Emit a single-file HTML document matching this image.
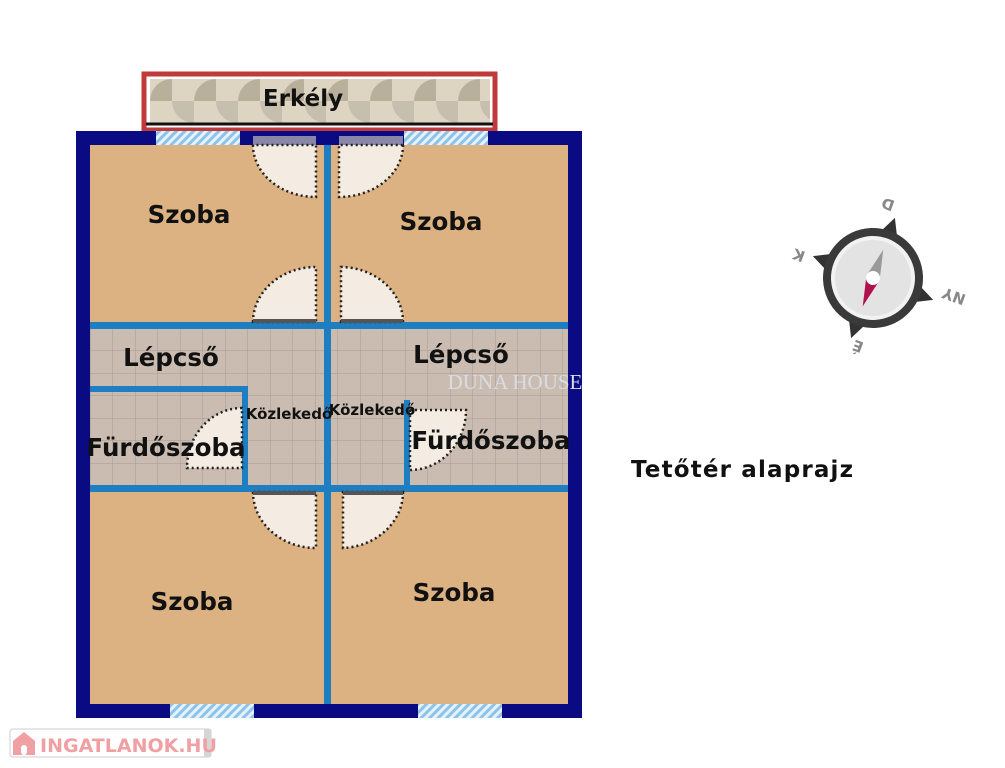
<!DOCTYPE html>
<html><head><meta charset="utf-8"><style>
html,body{margin:0;padding:0;background:#fff;width:1005px;height:768px;overflow:hidden}
svg{display:block}
text{font-family:"DejaVu Sans","Liberation Sans",sans-serif;font-weight:bold;fill:#111}
</style></head><body>
<svg width="1005" height="768" viewBox="0 0 1005 768" xmlns="http://www.w3.org/2000/svg">
<defs>
<pattern id="hatch" width="6" height="6" patternUnits="userSpaceOnUse" patternTransform="rotate(45)">
<rect width="6" height="6" fill="#e6f2fb"/><rect width="3" height="6" fill="#8cc3e8"/></pattern>
<pattern id="tile" x="90" y="328" width="22.5" height="22.5" patternUnits="userSpaceOnUse">
<rect width="22.5" height="22.5" fill="#cbbcb2"/><path d="M0 0H22.5M0 0V22.5" stroke="#a89a92" stroke-width="1"/></pattern>
<pattern id="erk" x="150" y="79" width="44" height="44" patternUnits="userSpaceOnUse">
<rect width="44" height="44" fill="#ddd5c2"/><path d="M0 22 A22 22 0 0 1 22 0 L22 22Z" fill="#b9b09c"/><path d="M44 44 A22 22 0 0 1 22 22 L44 22Z" fill="#c7bfad"/></pattern>
</defs>
<rect x="144" y="74" width="351" height="56" fill="#fff" stroke="#c0393b" stroke-width="5"/>
<rect x="150" y="79" width="340" height="44" fill="url(#erk)"/>
<line x1="146" y1="124" x2="493" y2="124" stroke="#111" stroke-width="3"/>
<text x="303" y="106" font-size="23" text-anchor="middle">Erkély</text>
<rect x="76" y="131" width="506" height="587" fill="#0a0a82"/>
<rect x="90" y="145" width="478" height="559" fill="#ddb282"/>
<rect x="90" y="328" width="478" height="159" fill="url(#tile)"/>
<rect x="156" y="131" width="84" height="14" fill="url(#hatch)"/>
<rect x="404" y="131" width="84" height="14" fill="url(#hatch)"/>
<rect x="170" y="704" width="84" height="14" fill="url(#hatch)"/>
<rect x="418" y="704" width="84" height="14" fill="url(#hatch)"/>
<rect x="253" y="136" width="63" height="9" fill="#8a86a8"/>
<rect x="339" y="136" width="64" height="9" fill="#8a86a8"/>
<g fill="#1d7fc1">
<rect x="324" y="145" width="7" height="559"/>
<rect x="90" y="322" width="478" height="7"/>
<rect x="90" y="485" width="478" height="7"/>
<rect x="90" y="386" width="158" height="6"/>
<rect x="242" y="386" width="6" height="100"/>
<rect x="404" y="400" width="6" height="86"/>
</g>
<g fill="#f4ebe2" stroke="#222" stroke-width="2.5" stroke-dasharray="2,3">
<path d="M253 145 A63 52 0 0 0 316 197 L316 145Z"/>
<path d="M403 145 A64 52 0 0 1 339 197 L339 145Z"/>
<path d="M253 322 A63 55 0 0 1 316 267 L316 322Z"/>
<path d="M403 322 A63 55 0 0 0 341 267 L341 322Z"/>
<path d="M253 492 A63 56 0 0 0 316 548 L316 492Z"/>
<path d="M403 492 A63 56 0 0 1 343 548 L343 492Z"/>
<path d="M242 408 A55 60 0 0 0 187 468 L242 468Z"/>
<path d="M410 410 L466 410 A56 60 0 0 1 410 470Z"/>
</g>
<rect x="253" y="319" width="63" height="4" fill="#555"/>
<rect x="341" y="319" width="62" height="4" fill="#555"/>
<rect x="253" y="491" width="63" height="4" fill="#555"/>
<rect x="343" y="491" width="60" height="4" fill="#555"/>
<text x="189" y="223" font-size="24.5" text-anchor="middle">Szoba</text>
<text x="441" y="230" font-size="24.5" text-anchor="middle">Szoba</text>
<text x="171" y="366" font-size="24.5" text-anchor="middle">Lépcső</text>
<text x="461" y="363" font-size="24.5" text-anchor="middle">Lépcső</text>
<text x="166" y="456" font-size="24.5" text-anchor="middle">Fürdőszoba</text>
<text x="491" y="449" font-size="24.5" text-anchor="middle">Fürdőszoba</text>
<text x="289" y="419" font-size="15" text-anchor="middle">Közlekedő</text>
<text x="372" y="415" font-size="15" text-anchor="middle">Közlekedő</text>
<text x="192" y="610" font-size="24.5" text-anchor="middle">Szoba</text>
<text x="454" y="601" font-size="24.5" text-anchor="middle">Szoba</text>
<text x="515" y="389" font-size="21" style="font-family:'Liberation Serif',serif;font-weight:normal;fill:#d8dde4" text-anchor="middle">DUNA HOUSE</text>
<text x="631" y="477" font-size="23" textLength="222">Tetőtér alaprajz</text>
<g transform="translate(873,278) rotate(20)">
<path d="M0 -64 L-11 -42 L11 -42Z M0 64 L-11 42 L11 42Z M-64 0 L-42 -11 L-42 11Z M64 0 L42 -11 L42 11Z" fill="#333"/>
<circle r="50" fill="#3a3a3a"/><circle r="42" fill="#f2f2f2"/><circle r="38" fill="#e3e3e3"/>
<path d="M-7 0 L0 -30 L7 0Z" fill="#999"/><path d="M-7 0 L0 30 L7 0Z" fill="#b0104e"/>
<circle r="7" fill="#fff"/>
</g>
<g font-size="15" style="fill:#888">
<text x="888" y="209" transform="rotate(200 888 204)" text-anchor="middle" style="fill:#888">D</text>
<text x="799" y="260" transform="rotate(200 799 255)" text-anchor="middle" style="fill:#888">K</text>
<text x="954" y="301" transform="rotate(200 954 296)" text-anchor="middle" style="fill:#888">NY</text>
<text x="858" y="351" transform="rotate(200 858 346)" text-anchor="middle" style="fill:#888">É</text>
</g>
<rect x="10" y="729" width="201" height="28" rx="3" fill="#fff" stroke="#ddd" stroke-width="1.5"/>
<rect x="204" y="729" width="7" height="28" fill="#d6d6d6"/>
<path d="M13 741 L24 732 L35 741 V755 H13Z" fill="#f0a0a3"/>
<rect x="21" y="745" width="6" height="10" rx="3" fill="#fff"/>
<text x="40" y="752" font-size="19" style="fill:#f0a0a3">INGATLANOK.HU</text>
</svg>
</body></html>
